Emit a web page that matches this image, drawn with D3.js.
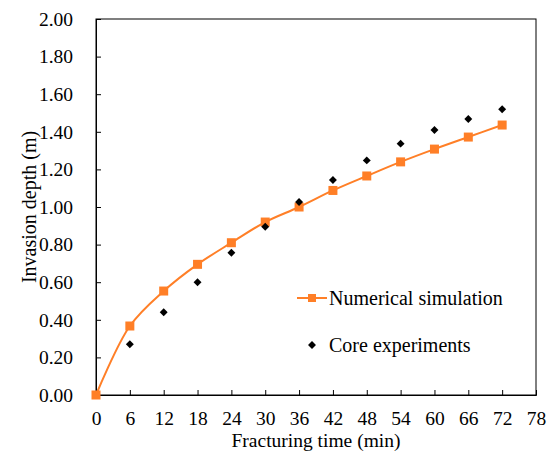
<!DOCTYPE html>
<html>
<head>
<meta charset="utf-8">
<script src="https://cdn.jsdelivr.net/npm/d3@7"></script>
<style>
  body { margin: 0; background: #fff; }
</style>
</head>
<body>
<div id="chart"></div>
<script>
// data
var times = [0, 6, 12, 18, 24, 30, 36, 42, 48, 54, 60, 66, 72];
var simulation = [0, 0.367, 0.553, 0.695, 0.81, 0.92, 1.0, 1.088, 1.165, 1.24, 1.308, 1.372, 1.436];
var expTimes = [6, 12, 18, 24, 30, 36, 42, 48, 54, 60, 66, 72];
var experiments = [0.27, 0.44, 0.60, 0.757, 0.895, 1.027, 1.144, 1.248, 1.337, 1.41, 1.468, 1.52];
var xTicks = [0, 6, 12, 18, 24, 30, 36, 42, 48, 54, 60, 66, 72, 78];
var yTicks = [0, 0.2, 0.4, 0.6, 0.8, 1.0, 1.2, 1.4, 1.6, 1.8, 2.0];

var serif = "'Liberation Serif', 'Times New Roman', serif";

function main() {
    var margin = { top: 19, right: 12, bottom: 57, left: 96 },
        width = 548 - margin.left - margin.right,
        height = 452 - margin.top - margin.bottom;

    var orange = "#FF7F27";

    var svg = d3.select("#chart")
        .append("svg")
        .attr("width", 548)
        .attr("height", 452)
        .style("font-family", serif)
        .append("g")
        .attr("transform", "translate(" + margin.left + "," + margin.top + ")");

    var x = d3.scaleLinear().domain([0, 78]).range([0, width]);
    var y = d3.scaleLinear().domain([0, 2]).range([height, 0]);

    // frame
    svg.append("rect")
        .attr("x", 0).attr("y", 0)
        .attr("width", width).attr("height", height)
        .attr("fill", "none").attr("stroke", "#000").attr("stroke-width", 1);

    // axes with inward ticks
    var xAxis = svg.append("g")
        .attr("transform", "translate(0," + height + ")")
        .call(d3.axisBottom(x).tickValues(xTicks).tickSize(-5).tickPadding(16).tickFormat(d3.format("d")));
    var yAxis = svg.append("g")
        .call(d3.axisLeft(y).tickValues(yTicks).tickSize(-5).tickPadding(23).tickFormat(d3.format(".2f")));

    [xAxis, yAxis].forEach(function (a) {
        a.attr("font-family", null).attr("font-size", null);
        a.select(".domain").attr("stroke", "#000");
        a.selectAll(".tick line").attr("stroke", "#000");
        a.selectAll(".tick text")
            .style("font-family", serif)
            .style("font-size", "19.5px")
            .attr("fill", "#000");
    });

    // simulation line
    var line = d3.line()
        .x(function (d, i) { return x(times[i]); })
        .y(function (d) { return y(d); })
        .curve(d3.curveCatmullRom.alpha(0.5));

    svg.append("path")
        .datum(simulation)
        .attr("d", line)
        .attr("fill", "none")
        .attr("stroke", orange)
        .attr("stroke-width", 2);

    svg.append("g")
        .selectAll("rect")
        .data(simulation)
        .enter()
        .append("rect")
        .attr("x", function (d, i) { return x(times[i]) - 4.5; })
        .attr("y", function (d) { return y(d) - 4.5; })
        .attr("width", 9)
        .attr("height", 9)
        .attr("fill", orange);

    // experiment markers
    var diamond = d3.symbol().type(d3.symbolDiamond2).size(40);
    svg.append("g")
        .selectAll("path")
        .data(experiments)
        .enter()
        .append("path")
        .attr("d", diamond)
        .attr("transform", function (d, i) { return "translate(" + x(expTimes[i]) + "," + y(d) + ")"; })
        .attr("fill", "#000");

    // legend
    var lg = svg.append("g").attr("transform", "translate(201,279)");
    lg.append("line").attr("x1", 0).attr("x2", 30).attr("y1", 0).attr("y2", 0)
        .attr("stroke", orange).attr("stroke-width", 2);
    lg.append("rect").attr("x", 11).attr("y", -4).attr("width", 8).attr("height", 8).attr("fill", orange);
    lg.append("text").attr("x", 32).attr("y", 7).style("font-family", serif).style("font-size", "20px").text("Numerical simulation");
    lg.append("path").attr("d", diamond).attr("transform", "translate(15,47)").attr("fill", "#000");
    lg.append("text").attr("x", 32).attr("y", 54).style("font-family", serif).style("font-size", "20px").text("Core experiments");

    // axis titles
    svg.append("text")
        .attr("x", width / 2)
        .attr("y", height + 52)
        .attr("text-anchor", "middle")
        .style("font-family", serif)
        .style("font-size", "19.5px")
        .text("Fracturing time (min)");

    svg.append("text")
        .attr("transform", "rotate(-90)")
        .attr("x", -height / 2)
        .attr("y", -60)
        .attr("text-anchor", "middle")
        .style("font-family", serif)
        .style("font-size", "20px")
        .text("Invasion depth (m)");
}
window.addEventListener('load', main);
</script>
</body>
</html>
